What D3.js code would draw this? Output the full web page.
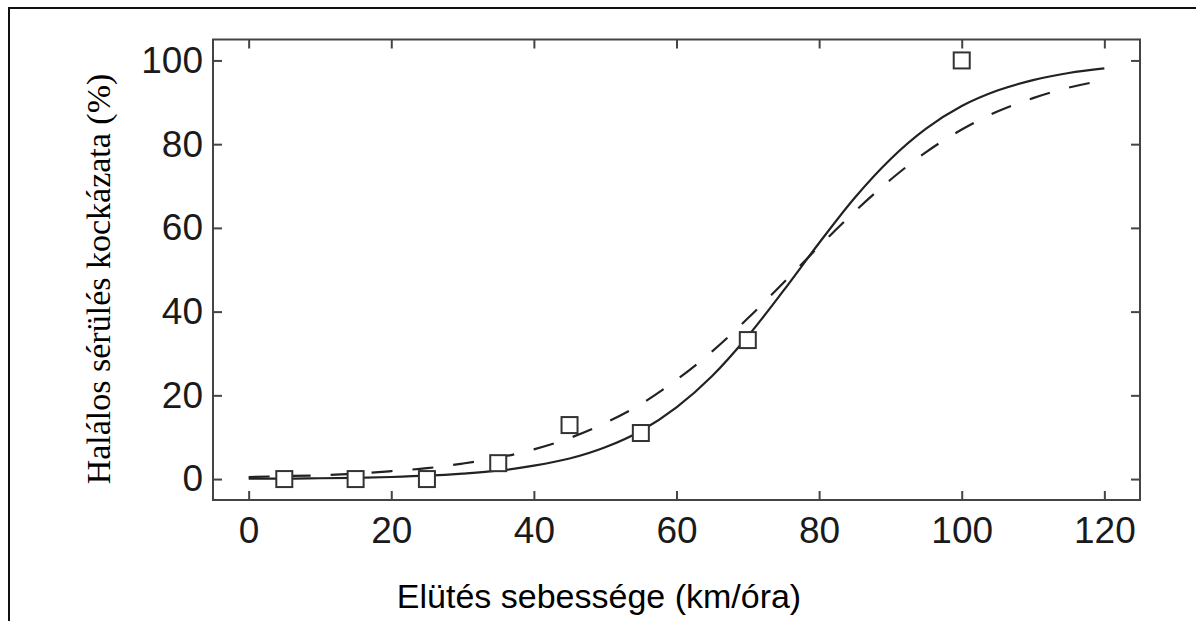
<!DOCTYPE html>
<html>
<head>
<meta charset="utf-8">
<script src="https://cdn.jsdelivr.net/npm/d3@7"></script>
<style>
  html, body { margin: 0; padding: 0; background: #fff; }
  svg { display: block; }
</style>
</head>
<body>
<svg id="chart" width="1196" height="621"></svg>
<script>
// ---- data ----
const xTicks = [0, 20, 40, 60, 80, 100, 120];
const yTicks = [0, 20, 40, 60, 80, 100];

// observed points (speed km/h, fatality risk %)
const obsSpeed = [5, 15, 25, 35, 45, 55, 70, 100];
const obsRisk  = [0, 0, 0, 3.8, 12.9, 11.0, 33.2, 100];

// fitted curves every 5 km/h
const curveSpeed = [0, 5, 10, 15, 20, 25, 30, 35, 40, 45, 50, 55, 60, 65, 70, 75, 80, 85, 90, 95, 100, 105, 110, 115, 120];
const solidRisk  = [0.1, 0.1, 0.2, 0.3, 0.5, 0.8, 1.3, 2.0, 3.2, 4.9, 7.6, 11.5, 17.1, 24.6, 34.1, 45.0, 56.4, 67.2, 76.4, 83.7, 89.1, 92.8, 95.3, 97.0, 98.1];
const dashedRisk = [0.5, 0.7, 0.9, 1.3, 1.9, 2.6, 3.7, 5.1, 7.1, 9.8, 13.4, 17.9, 23.7, 30.5, 38.4, 46.9, 55.6, 63.9, 71.5, 78.1, 83.5, 87.8, 91.0, 93.5, 95.3];

const xLabel = "Elütés sebessége (km/óra)";
const yLabel = "Halálos sérülés kockázata (%)";

// ---- drawing ----
const svg = d3.select("#chart");
const L = 213, R = 1140, T = 39.5, B = 500;

const x = d3.scaleLinear().domain([-5, 125]).range([L, R]);
const y = d3.scaleLinear().domain([-5, 105]).range([B, T]);

// outer page frame (cropped on right/bottom)
svg.append("path")
  .attr("d", "M9,630 L9,8 L1205,8")
  .attr("fill", "none").attr("stroke", "#111").attr("stroke-width", 2);

const axisColor = "#444";
const tickFont = "Liberation Sans, Arial, Helvetica, sans-serif";

function styleAxis(g) {
  g.select(".domain").remove();
  g.selectAll(".tick line").attr("stroke", axisColor).attr("stroke-width", 2);
  g.selectAll(".tick text").attr("fill", "#1a1a1a")
    .style("font-family", tickFont).style("font-size", "37px");
}

svg.append("g").attr("transform", `translate(0,${B})`)
  .call(d3.axisBottom(x).tickValues(xTicks).tickSize(-9).tickPadding(17).tickFormat(d3.format("d")))
  .call(styleAxis);
svg.append("g").attr("transform", `translate(0,${T})`)
  .call(d3.axisTop(x).tickValues(xTicks).tickSize(-9).tickFormat(""))
  .call(styleAxis);
svg.append("g").attr("transform", `translate(${L},0)`)
  .call(d3.axisLeft(y).tickValues(yTicks).tickSize(-9).tickPadding(10).tickFormat(d3.format("d")))
  .call(styleAxis);
svg.append("g").attr("transform", `translate(${R},0)`)
  .call(d3.axisRight(y).tickValues(yTicks).tickSize(-9).tickFormat(""))
  .call(styleAxis);

// plot frame
svg.append("rect")
  .attr("x", L).attr("y", T).attr("width", R - L).attr("height", B - T)
  .attr("fill", "none").attr("stroke", axisColor).attr("stroke-width", 2);

// curves
const line = d3.line().x(d => x(d[0])).y(d => y(d[1])).curve(d3.curveMonotoneX);
svg.append("path")
  .datum(curveSpeed.map((s, i) => [s, solidRisk[i]]))
  .attr("d", line).attr("fill", "none").attr("stroke", "#222").attr("stroke-width", 2.2);
svg.append("path")
  .datum(curveSpeed.map((s, i) => [s, dashedRisk[i]]))
  .attr("d", line).attr("fill", "none").attr("stroke", "#222").attr("stroke-width", 2.2)
  .attr("stroke-dasharray", "21,20");

// observed squares
const sq = 16;
svg.append("g").selectAll("rect")
  .data(obsSpeed.map((s, i) => [s, obsRisk[i]]))
  .join("rect")
  .attr("x", d => x(d[0]) - sq / 2).attr("y", d => y(d[1]) - sq / 2)
  .attr("width", sq).attr("height", sq)
  .attr("fill", "#fff").attr("stroke", "#333").attr("stroke-width", 2);

// axis titles
svg.append("text")
  .attr("x", 599).attr("y", 608).attr("text-anchor", "middle")
  .style("font-family", tickFont).style("font-size", "34px").attr("fill", "#000")
  .text(xLabel);
svg.append("text")
  .attr("transform", "translate(110,279) rotate(-90)").attr("text-anchor", "middle")
  .style("font-family", "Liberation Serif, Times New Roman, serif").style("font-size", "34px").attr("fill", "#000")
  .text(yLabel);
</script>
</body>
</html>
